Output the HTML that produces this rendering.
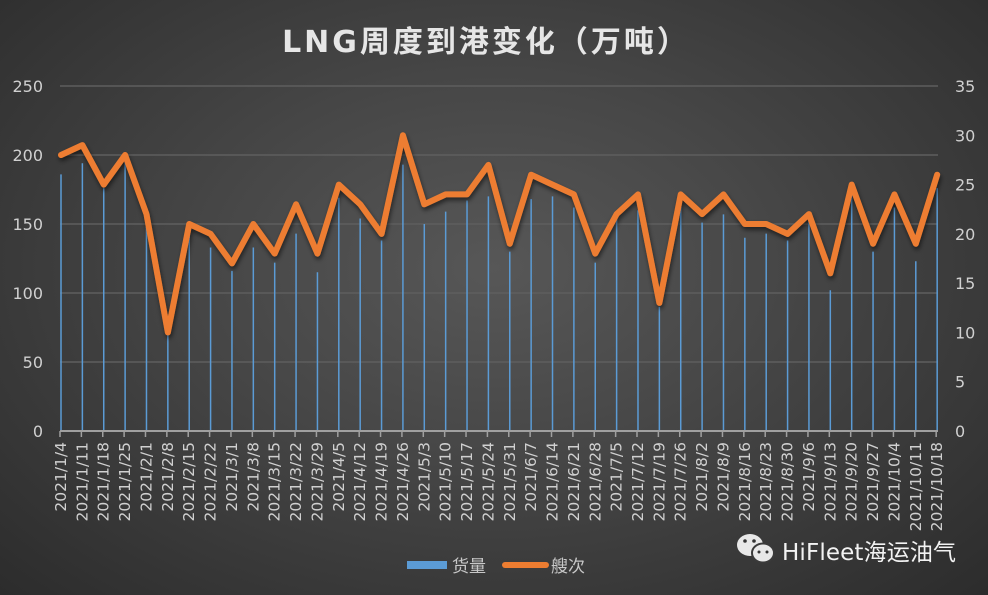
<!DOCTYPE html>
<html><head><meta charset="utf-8"><style>
html,body{margin:0;padding:0;}
body{width:988px;height:595px;overflow:hidden;background:radial-gradient(ellipse at 50% 45%,#575757 0%,#474747 40%,#2c2c2c 100%);}
svg{display:block;}
text{font-family:"DejaVu Sans","Noto Sans CJK SC",sans-serif;}
</style></head><body>
<svg width="988" height="595" viewBox="0 0 988 595" xmlns="http://www.w3.org/2000/svg">
<defs><filter id="sh" x="-5%" y="-5%" width="110%" height="120%"><feDropShadow dx="1" dy="3" stdDeviation="2.5" flood-color="#000" flood-opacity="0.55"/></filter></defs>
<text x="486" y="52" text-anchor="middle" font-size="30" font-weight="bold" fill="#e6e6e6" letter-spacing="3" style="font-family:'DejaVu Sans','Noto Sans CJK SC',sans-serif">LNG周度到港变化（万吨）</text>
<g id="grid" stroke="#5e5e5e" stroke-width="1.5"></g>
<g id="bars" stroke="#5b9bd5" stroke-width="1.5"></g>
<line x1="60" y1="431" x2="938" y2="431" stroke="#a0a0a0" stroke-width="2"/>
<g id="ticks" stroke="#a0a0a0" stroke-width="1.5"></g>
<polyline id="ln" fill="none" stroke="#ed7d31" stroke-width="6" stroke-linejoin="round" stroke-linecap="round" filter="url(#sh)"/>
<g id="ll" font-size="16" fill="#d0d0d0" text-anchor="end"></g>
<g id="rl" font-size="16" fill="#d0d0d0"></g>
<g id="xl" font-size="15.5" fill="#d0d0d0"></g>
<rect x="407" y="561" width="40" height="8" fill="#5b9bd5"/>
<text x="452" y="572" font-size="17" fill="#c8c8c8">货量</text>
<line x1="505" y1="565" x2="546" y2="565" stroke="#ed7d31" stroke-width="6" stroke-linecap="round"/>
<text x="551" y="572" font-size="17" fill="#c8c8c8">艘次</text>
<g fill="#e8e8e8"><ellipse cx="750" cy="545" rx="13" ry="11"/><ellipse cx="763" cy="553" rx="11" ry="9.5" stroke="#3a3a3a" stroke-width="2"/></g>
<g fill="#333"><circle cx="745" cy="541" r="1.8"/><circle cx="754" cy="541" r="1.8"/><circle cx="759" cy="552" r="1.5"/><circle cx="767" cy="552" r="1.5"/></g>
<text x="782" y="560" font-size="23" fill="#f2f2f2" textLength="174">HiFleet海运油气</text>
</svg>
<script>
var ns="http://www.w3.org/2000/svg";
function el(p,t,a,tx){var e=document.createElementNS(ns,t);for(var k in a)e.setAttribute(k,a[k]);if(tx!=null)e.textContent=tx;document.getElementById(p).appendChild(e);}
var base=431,ls=1.38,rs=9.857;
for(var v=50;v<=250;v+=50){var y=base-v*ls;el("grid","line",{x1:60,x2:938,y1:y,y2:y});}
for(var v=0;v<=250;v+=50)el("ll","text",{x:43,y:base-v*ls+6},v);
for(var v=0;v<=35;v+=5)el("rl","text",{x:955,y:base-v*rs+6},v);
var d=["1/4","1/11","1/18","1/25","2/1","2/8","2/15","2/22","3/1","3/8","3/15","3/22","3/29","4/5","4/12","4/19","4/26","5/3","5/10","5/17","5/24","5/31","6/7","6/14","6/21","6/28","7/5","7/12","7/19","7/26","8/2","8/9","8/16","8/23","8/30","9/6","9/13","9/20","9/27","10/4","10/11","10/18"];
var s=[28,29,25,28,22,10,21,20,17,21,18,23,18,25,23,20,30,23,24,24,27,19,26,25,24,18,22,24,13,24,22,24,21,21,20,22,16,25,19,24,19,26];
var b=[186,194,176,195,148,71,141,133,116,133,122,143,115,169,154,138,193,150,159,167,170,130,168,170,162,122,157,160,90,167,151,157,140,143,138,154,102,171,130,162,123,176];
var pts=[];
for(var i=0;i<42;i++){var x=61+i*21.37;
el("bars","line",{x1:x,x2:x,y1:base,y2:base-b[i]*ls});
el("ticks","line",{x1:x-1,x2:x-1,y1:431,y2:437});
pts.push(x+","+(base-s[i]*rs).toFixed(1));
el("xl","text",{x:0,y:0,"text-anchor":"end",transform:"translate("+(x+5)+",442) rotate(-90)"},"2021/"+d[i]);}
document.getElementById("ln").setAttribute("points",pts.join(" "));
</script>
</body></html>
